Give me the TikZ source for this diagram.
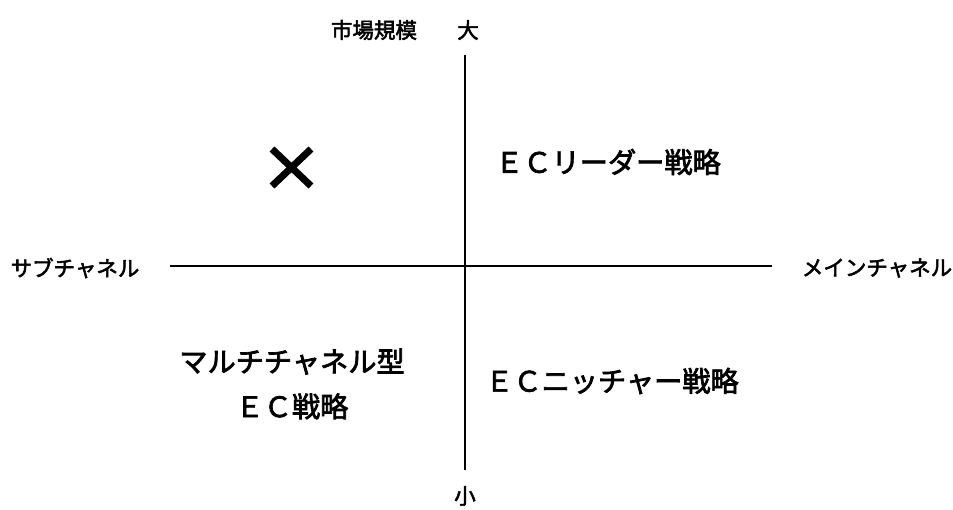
\documentclass[tikz,border=0pt]{standalone}
\usepackage{fontspec}
\setmainfont{Noto Sans CJK JP}[FakeBold=2.5]
\begin{document}
\begin{tikzpicture}[x=1pt,y=-1pt,
  axis/.style={line width=1.3pt, black},
  small/.style={font=\fontsize{21.5}{24}\selectfont, inner sep=0pt, anchor=center},
  big/.style={font=\fontsize{28.2}{31}\selectfont, inner sep=0pt, anchor=center, align=center},
  cross/.style={line width=7pt, black}]
\useasboundingbox (0,0) rectangle (953,509);
\coordinate (vtop) at (465,55);
\coordinate (vbot) at (465,470);
\coordinate (hl) at (170,266);
\coordinate (hr) at (772,266);
\draw[axis] (vtop) -- (vbot);
\draw[axis] (hl) -- (hr);
\node[small] (top) at (374,30) {市場規模};
\node[small] (topb) at (468,30) {大};
\node[small] (bot) at (465,496) {小};
\node[small] (left) at (75,268) {サブチャネル};
\node[small] (right) at (877,268) {メインチャネル};
\node[big] (q1) at (608,162) {ＥＣリーダー戦略};
\node[big] (q3) at (292,384) {マルチチャネル型\\[14pt]ＥＣ戦略};
\node[big] (q4) at (612,381) {ＥＣニッチャー戦略};
\coordinate (c1) at (272,149);
\coordinate (c2) at (311,186);
\coordinate (c3) at (311,149);
\coordinate (c4) at (272,186);
\draw[cross] (c1) -- (c2);
\draw[cross] (c3) -- (c4);
\end{tikzpicture}
\end{document}
